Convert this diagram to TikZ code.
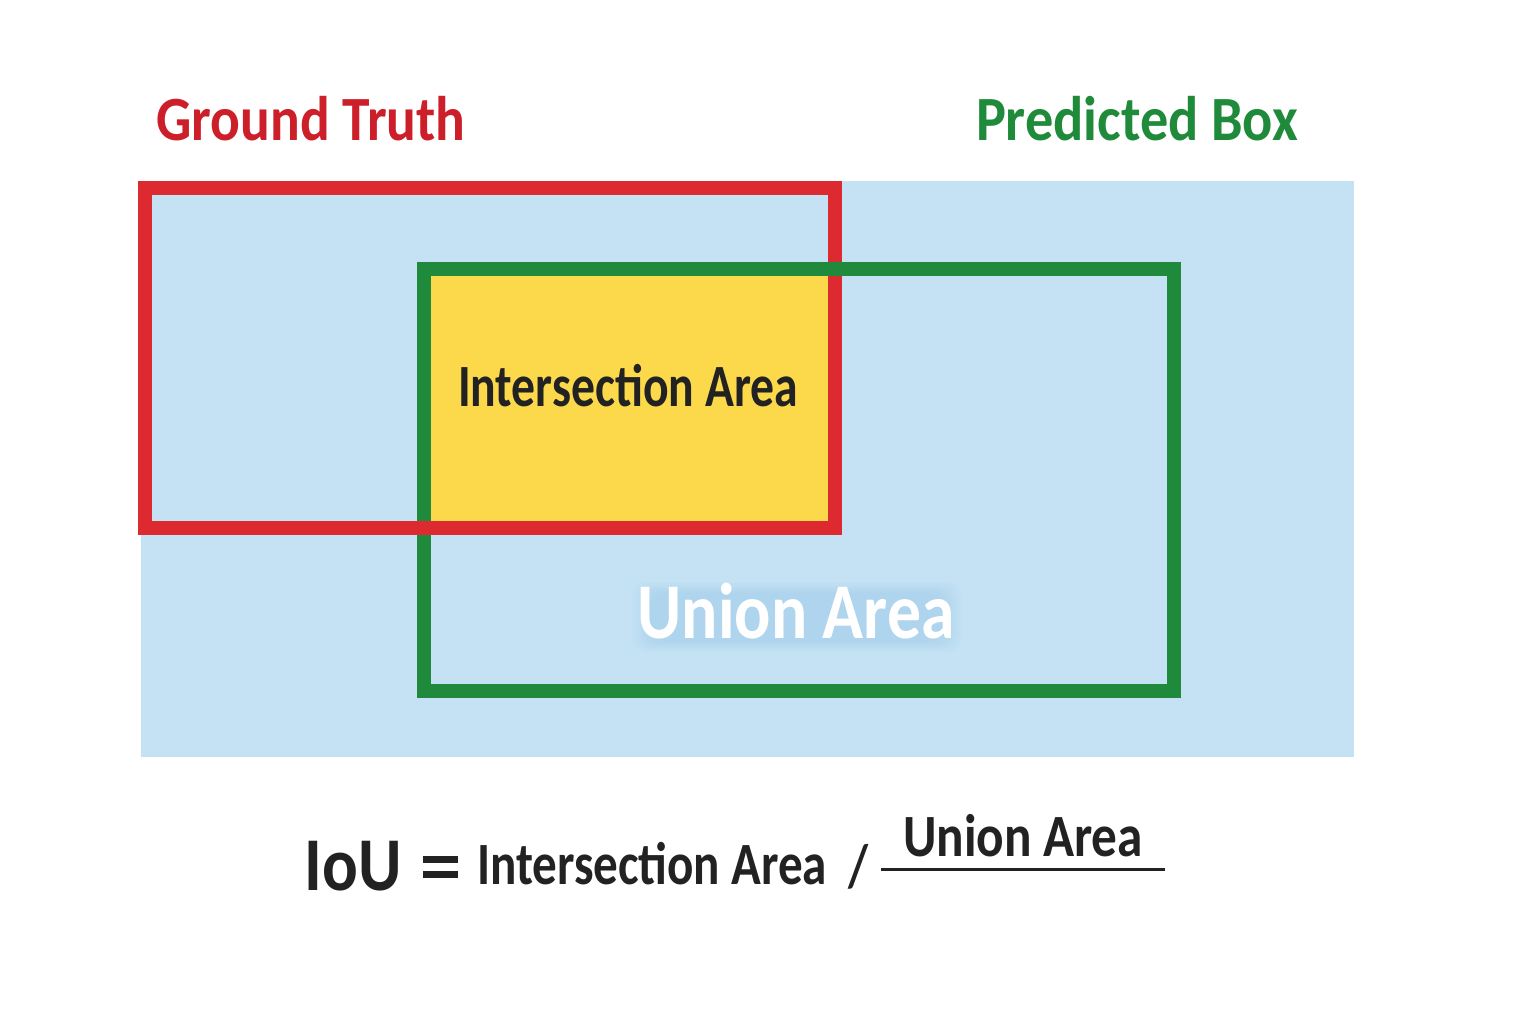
\documentclass[tikz,border=0pt]{standalone}
\usepackage{fontspec}
\usepackage{graphicx}
\setmainfont{Carlito}
\definecolor{bgblue}{HTML}{C5E2F4}
\definecolor{gtred}{HTML}{DC2A30}
\definecolor{pbgreen}{HTML}{1F8A3C}
\definecolor{titred}{HTML}{CC1F2A}
\definecolor{titgreen}{HTML}{1E8A3A}
\definecolor{ylw}{HTML}{FCD94A}
\definecolor{ink}{HTML}{222222}
\definecolor{halo}{HTML}{8EC0E6}
\newcommand\fitw[3]{\resizebox{#1}{\height}{\fontsize{#2}{#2}\selectfont\bfseries #3}}
\tikzset{
  lbl/.style={inner sep=0pt, anchor=base},
  boxline/.style={line width=14pt, line join=miter},
  glow/.style={fill=halo, fill opacity=0.06, rounded corners=14pt},
}
\begin{document}
\begin{tikzpicture}[x=1pt,y=-1pt]
\useasboundingbox (0,0) rectangle (1536,1024);
\fill[white] (0,0) rectangle (1536,1024);
% union (light blue) area
\fill[bgblue] (141,181) rectangle (1354,757);
% intersection
\fill[ylw] (431,276) rectangle (828,521);
% ground truth box
\draw[boxline, gtred] (145,188) rectangle (835,528);
% predicted box
\draw[boxline, pbgreen] (424,269) rectangle (1174,691);
% red bottom edge over the green
\draw[line width=14pt, gtred] (400,528) -- (450,528);
% titles
\node[lbl, text=titred] (gt) at (311,141) {\fitw{309pt}{63}{Ground Truth}};
\node[lbl, text=titgreen] (pb) at (1137,141) {\fitw{322pt}{63}{Predicted Box}};
\node[lbl, text=ink] (ia) at (628,406) {\fitw{340pt}{60}{Intersection Area}};
% soft glow behind the union label
\foreach \d in {0,3,...,18}{
  \path[glow] (632+\d,582+\d*0.6) rectangle (962-\d,652-\d*0.6);
}
\node[lbl, text=white] (ua) at (796,638) {\fitw{317pt}{79}{Union Area}};
% formula
\node[lbl, text=ink] (iou) at (353,890) {\fitw{97pt}{76}{IoU}};
\node[lbl, text=ink] (eq) at (440,878) {\vbox{\hrule width 35pt height 7pt\vskip 8pt\hrule width 35pt height 7pt}};
\node[lbl, text=ink] (fi) at (652,884) {\fitw{350pt}{60}{Intersection Area}};
\node[lbl, text=ink] (sl) at (858,886) {\fitw{20pt}{60}{/}};
\node[lbl, text=ink] (fu) at (1023,856) {\fitw{240pt}{60}{Union Area}};
\coordinate (fl) at (881,869);
\coordinate (fr) at (1165,869);
\draw[ink, line width=3pt] (fl) -- (fr);
\end{tikzpicture}
\end{document}
